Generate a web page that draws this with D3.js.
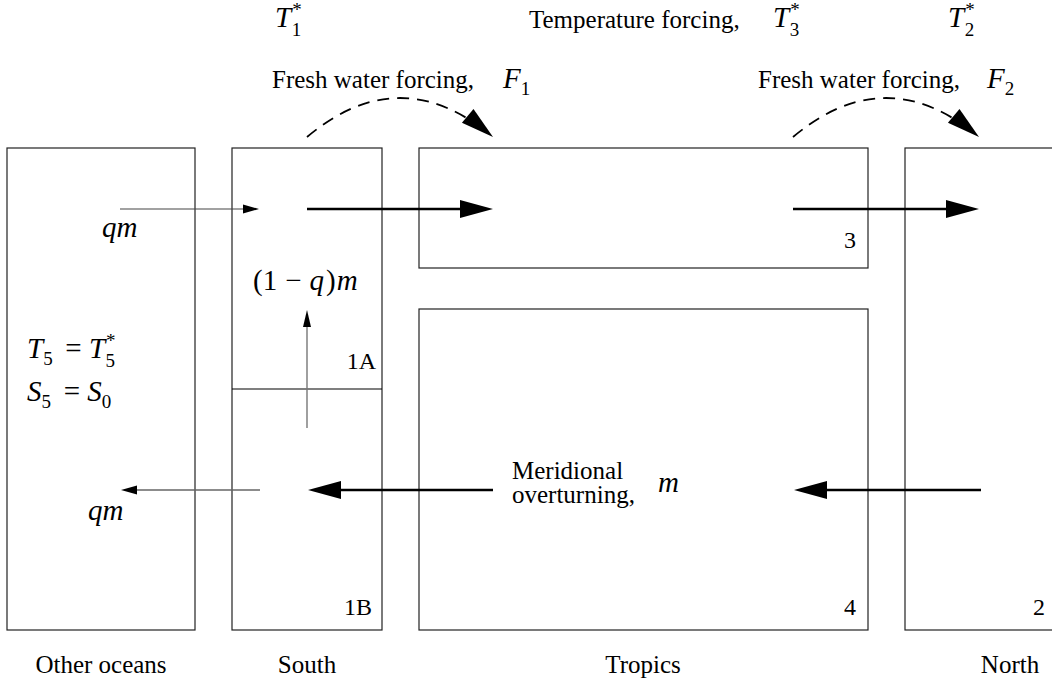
<!DOCTYPE html>
<html>
<head>
<meta charset="utf-8">
<script src="https://cdn.jsdelivr.net/npm/d3@7"></script>
<style>
  body { margin: 0; background: #fff; }
</style>
</head>
<body>
<div id="chart"></div>
<script>
// region names along the bottom
const regionNames = ['Other oceans', 'South', 'Tropics', 'North'];
// box labels (numbered reservoirs)
const boxLabels = ['1A', '1B', '3', '4', '2'];
// forcing labels on top
const forcingTexts = ['Temperature forcing,', 'Fresh water forcing,', 'Fresh water forcing,'];
// flux names
const fluxNames = ['qm', '(1 - q)m', 'qm', 'm'];

// diagram layout, in diagram units (pixels of the original figure)
const layout = {
    width: 1052,
    height: 681,
    boxes: [
        {x0: 7, x1: 195, y0: 148, y1: 630},     // other oceans
        {x0: 232, x1: 382, y0: 148, y1: 630},   // south
        {x0: 419, x1: 868, y0: 148, y1: 268},   // tropics upper (3)
        {x0: 419, x1: 868, y0: 309, y1: 630},   // tropics lower (4)
        {x0: 905, x1: 1060, y0: 148, y1: 630}   // north (runs off the edge)
    ],
    divider: {x0: 232, x1: 382, y: 389},
    regionX: [101, 307, 643, 1010],
    regionY: 673
};

const x = d3.scaleLinear().domain([0, layout.width]).range([0, 1052]);
const y = d3.scaleLinear().domain([0, layout.height]).range([0, 681]);

const svg = d3.select('#chart').append('svg').attr('width', 1052).attr('height', 681);

// ---- texts ----
const plain = (txt, px, py, anchor = 'start', size = 25) =>
    svg.append('text').attr('x', x(px)).attr('y', y(py))
        .style('font-family', 'Liberation Serif')
        .style('font-size', size + 'px')
        .style('text-anchor', anchor)
        .text(txt);

regionNames.forEach((r, i) => plain(r, layout.regionX[i], layout.regionY, 'middle'));

const boxLabelPos = [[376, 369], [372, 615], [856, 248], [856, 615], [1045, 615]];
boxLabels.forEach((b, i) => plain(b, boxLabelPos[i][0], boxLabelPos[i][1], 'end', 24));

plain(forcingTexts[0], 529, 28);
plain(forcingTexts[1], 272, 88);
plain(forcingTexts[2], 758, 88);
plain('Meridional', 512, 479);
plain('overturning,', 512, 503);

const mathText = (px, py) => svg.append('text').attr('x', x(px)).attr('y', y(py))
    .style('font-family', 'Liberation Serif')
    .style('font-size', '29px');

// italic base letter with optional subscript / superscript
const math = (g, base, sub, sup) => {
    g.append('tspan').style('font-style', 'italic').text(base);
    if (sup) {
        g.append('tspan').attr('dx', 1).attr('dy', -11).style('font-size', '19px').text(sup);
        g.append('tspan').attr('dx', -10).attr('dy', 20).style('font-size', '19px').text(sub);
        g.append('tspan').attr('dy', -9).text('\u200a');
    } else if (sub) {
        g.append('tspan').attr('dy', 7).style('font-size', '19px').text(sub);
        g.append('tspan').attr('dy', -7).text('\u200a');
    }
};

math(mathText(275, 27), 'T', '1', '*');
math(mathText(773, 27), 'T', '3', '*');
math(mathText(948, 27), 'T', '2', '*');
math(mathText(503, 88), 'F', '1');
math(mathText(987, 88), 'F', '2');

const t5 = mathText(27, 358);
math(t5, 'T', '5');
t5.append('tspan').attr('dx', 3).text(' = ');
math(t5, 'T', '5', '*');
const s5 = mathText(27, 401);
math(s5, 'S', '5');
s5.append('tspan').attr('dx', 3).text(' = ');
math(s5, 'S', '0');

const qmTop = mathText(102, 237);
qmTop.append('tspan').style('font-style', 'italic').text(fluxNames[0]);
const qm1 = mathText(253, 290);
qm1.append('tspan').text('(1');
qm1.append('tspan').attr('dx', 8).text('\u2212');
qm1.append('tspan').attr('dx', 8).style('font-style', 'italic').text('q');
qm1.append('tspan').attr('dx', 2).text(')');
qm1.append('tspan').attr('dx', 1).style('font-style', 'italic').text('m');
const qmBot = mathText(88, 520);
qmBot.append('tspan').style('font-style', 'italic').text(fluxNames[2]);
const mm = mathText(658, 492);
mm.append('tspan').style('font-style', 'italic').text(fluxNames[3]);

// ---- boxes ----
svg.append('g')
    .selectAll('rect')
    .data(layout.boxes)
    .join('rect')
    .attr('x', d => x(d.x0))
    .attr('y', d => y(d.y0))
    .attr('width', d => x(d.x1) - x(d.x0))
    .attr('height', d => y(d.y1) - y(d.y0))
    .attr('fill', 'none')
    .attr('stroke', '#222')
    .attr('stroke-width', 1.2);

svg.append('line')
    .attr('x1', x(layout.divider.x0)).attr('x2', x(layout.divider.x1))
    .attr('y1', y(layout.divider.y)).attr('y2', y(layout.divider.y))
    .attr('stroke', '#000').attr('stroke-width', 1.2);

// straight arrows: from, to, head length, half width, line style
const arrows = [
    {from: [120, 209], to: [259, 209], len: 16, half: 4.5, w: 1.2, color: '#444'},
    {from: [307, 209], to: [493, 209], len: 33, half: 9, w: 2.4, color: '#000'},
    {from: [793, 209], to: [979, 209], len: 33, half: 9, w: 2.4, color: '#000'},
    {from: [307, 428], to: [307, 310], len: 17, half: 4, w: 1.4, color: '#777'},
    {from: [493, 490], to: [308, 490], len: 33, half: 9, w: 2.4, color: '#000'},
    {from: [981, 490], to: [794, 490], len: 33, half: 9, w: 2.4, color: '#000'},
    {from: [260, 490], to: [121, 490], len: 16, half: 4.5, w: 1.4, color: '#666'}
];

const headPoints = (tip, dir, len, half) => {
    const [ux, uy] = dir;
    const bx = tip[0] - ux * len, by = tip[1] - uy * len;
    return [
        [x(tip[0]), y(tip[1])],
        [x(bx - uy * half), y(by + ux * half)],
        [x(bx + uy * half), y(by - ux * half)]
    ];
};

const arrowG = svg.append('g');
arrows.forEach(a => {
    const dx = a.to[0] - a.from[0], dy = a.to[1] - a.from[1];
    const n = Math.hypot(dx, dy);
    const dir = [dx / n, dy / n];
    arrowG.append('line')
        .attr('x1', x(a.from[0])).attr('y1', y(a.from[1]))
        .attr('x2', x(a.to[0] - dir[0] * a.len * 0.6)).attr('y2', y(a.to[1] - dir[1] * a.len * 0.6))
        .attr('stroke', a.color).attr('stroke-width', a.w);
    arrowG.append('polygon')
        .attr('points', headPoints(a.to, dir, a.len, a.half).map(p => p.join(',')).join(' '))
        .attr('fill', '#000');
});

// dashed forcing curves (quadratic): start, control, end
const curves = [
    {p0: [307, 137], c: [400, 59], p2: [493, 137]},
    {p0: [793, 137], c: [886, 59], p2: [979, 137]}
];
curves.forEach(cv => {
    const tx = cv.p2[0] - cv.c[0], ty = cv.p2[1] - cv.c[1];
    const n = Math.hypot(tx, ty);
    const dir = [tx / n, ty / n];
    // stop the curve near the head base
    const t = 0.86;
    const q = (a, b, c) => (1 - t) * (1 - t) * a + 2 * (1 - t) * t * b + t * t * c;
    const c1 = [cv.p0[0] + t * (cv.c[0] - cv.p0[0]), cv.p0[1] + t * (cv.c[1] - cv.p0[1])];
    const end = [q(cv.p0[0], cv.c[0], cv.p2[0]), q(cv.p0[1], cv.c[1], cv.p2[1])];
    const path = d3.path();
    path.moveTo(x(cv.p0[0]), y(cv.p0[1]));
    path.quadraticCurveTo(x(c1[0]), y(c1[1]), x(end[0]), y(end[1]));
    svg.append('path')
        .attr('d', path.toString())
        .attr('fill', 'none')
        .attr('stroke', '#000')
        .attr('stroke-width', 1.8)
        .attr('stroke-dasharray', '12,8');
    svg.append('polygon')
        .attr('points', headPoints(cv.p2, dir, 33, 9).map(p => p.join(',')).join(' '))
        .attr('fill', '#000');
});
</script>
</body>
</html>
